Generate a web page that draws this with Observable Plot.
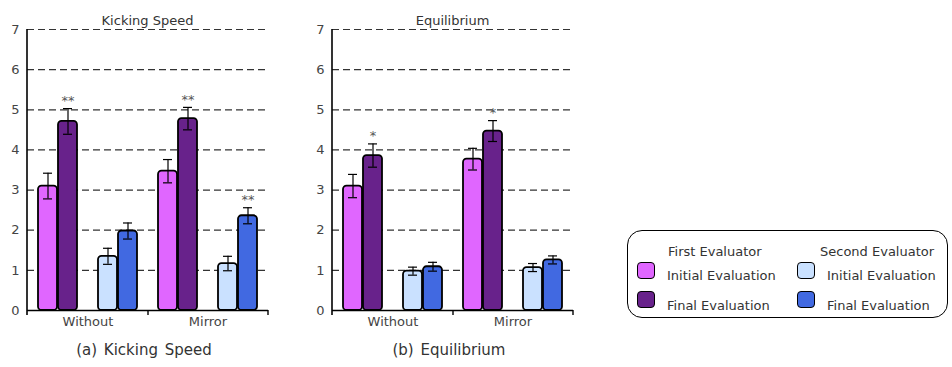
<!DOCTYPE html>
<html>
<head>
<meta charset="utf-8">
<script src="https://cdn.jsdelivr.net/npm/d3@7"></script>
<script src="https://cdn.jsdelivr.net/npm/@observablehq/plot@0.6"></script>
<style>
  html, body { margin: 0; padding: 0; background: #fff; }
  #root { position: relative; width: 952px; height: 367px; font-family: "DejaVu Sans", sans-serif; color: #444; }
  .abs { position: absolute; white-space: nowrap; }
  .title { font-size: 13px; line-height: 13px; text-align: center; color: #333; }
  .caption { font-size: 15px; line-height: 15px; text-align: center; color: #333; word-spacing: 2px; }
  .legend { left: 627px; top: 230px; width: 321px; height: 88px; box-sizing: border-box; border: 1.4px solid #000; border-radius: 15px; }
  .ltext { font-size: 13px; line-height: 13px; color: #333; }
  .sw { width: 18px; height: 17px; box-sizing: border-box; border: 1.6px solid #000; border-radius: 4px; }
  svg { overflow: visible; }
</style>
</head>
<body>
<div id="root"></div>
<script>
// ---- data ----
const conditions = ["Without", "Mirror"];
const seriesKeys = ["FI", "FF", "SI", "SF"];
const seriesLabels = ["Initial Evaluation", "Final Evaluation", "Initial Evaluation", "Final Evaluation"];
const evaluatorLabels = ["First Evaluator", "Second Evaluator"];
const seriesColors = ["#E066FF", "#68228B", "#CAE1FF", "#4169E1"];
const yTicks = [0, 1, 2, 3, 4, 5, 6, 7];
const gridValues = [1, 2, 3, 4, 5, 6, 7];

const chartTitles = ["Kicking Speed", "Equilibrium"];
const chartCaptions = ["(a) Kicking Speed", "(b) Equilibrium"];

// order: Without FI, FF, SI, SF, Mirror FI, FF, SI, SF
const kickingMean = [3.10, 4.71, 1.35, 1.98, 3.47, 4.78, 1.17, 2.36];
const kickingErr  = [0.32, 0.32, 0.20, 0.20, 0.29, 0.28, 0.18, 0.20];
const kickingSig  = ["", "**", "", "", "", "**", "", "**"];

const equilMean = [3.10, 3.86, 0.98, 1.09, 3.77, 4.47, 1.07, 1.26];
const equilErr  = [0.29, 0.29, 0.10, 0.11, 0.27, 0.26, 0.10, 0.10];
const equilSig  = ["", "*", "", "", "", "*", "", ""];

// ---- build ----
const root = document.getElementById("root");

function slotDomain() {
  const parts = conditions.map(c => [c + "|FI", c + "|FF", c + "|gap", c + "|SI", c + "|SF"]);
  const out = [];
  parts.forEach((p, i) => { if (i > 0) out.push("mid" + i); out.push(...p); });
  return out;
}

function makeChart(means, errs, sigs) {
  const rows = [];
  conditions.forEach((c, ci) => seriesKeys.forEach((s, si) => {
    const k = ci * seriesKeys.length + si;
    rows.push({cond: c, series: s, slot: c + "|" + s, value: means[k], err: errs[k], sig: sigs[k]});
  }));
  const domain = slotDomain();
  const midSlots = domain.filter(d => d.startsWith("mid"));
  const labelSlots = conditions.map(c => c + "|gap");

  const frameAxis = (index, scales, values, dimensions) => {
    const g = d3.create("svg:g").attr("stroke", "#000").attr("fill", "none");
    const xl = dimensions.marginLeft;
    const xr = dimensions.width - dimensions.marginRight;
    const y0 = scales.y(0);
    const yTop = scales.y(yTicks[yTicks.length - 1]);
    g.append("line").attr("x1", xl).attr("x2", xl).attr("y1", yTop).attr("y2", y0 + 5).attr("stroke-width", 1.6);
    g.append("line").attr("x1", xr).attr("x2", xr).attr("y1", y0).attr("y2", y0 + 5).attr("stroke-width", 1.4);
    return g.node();
  };

  return Plot.plot({
    width: 290,
    height: 315,
    marginLeft: 27,
    marginRight: 22,
    marginTop: 4,
    marginBottom: 30,
    style: {fontFamily: "DejaVu Sans, sans-serif", fontSize: "13px", color: "#444", background: "transparent", overflow: "visible"},
    x: {domain, paddingInner: 0.075, paddingOuter: 0.5, axis: null, label: null},
    y: {domain: [0, 7], axis: null, label: null},
    color: {domain: seriesKeys, range: seriesColors},
    marks: [
      Plot.ruleY(gridValues, {stroke: "#333", strokeWidth: 1.2, strokeDasharray: "7,4"}),
      Plot.axisY({ticks: yTicks, tickSize: 0, tickPadding: 8, tickFormat: d => String(d), label: null, fontSize: 13, fill: "#444"}),
      Plot.barY(rows, {x: "slot", y: "value", fill: "series", stroke: "#000", strokeWidth: 1.8, rx: 3.5}),
      Plot.ruleX(rows, {x: "slot", y1: d => d.value - d.err, y2: d => d.value + d.err, stroke: "#000", strokeWidth: 1.2}),
      Plot.tickY(rows, {x: "slot", y: d => d.value + d.err, stroke: "#000", strokeWidth: 1.2, insetLeft: 5, insetRight: 5}),
      Plot.tickY(rows, {x: "slot", y: d => d.value - d.err, stroke: "#000", strokeWidth: 1.2, insetLeft: 5, insetRight: 5}),
      Plot.text(rows.filter(d => d.sig), {x: "slot", y: d => d.value + d.err, text: "sig", dy: -8, fill: "#555", fontSize: 13}),
      Plot.ruleY([0], {stroke: "#000", strokeWidth: 1.6}),
      Plot.axisX({ticks: labelSlots, tickSize: 0, tickPadding: 6, tickFormat: d => d.split("|")[0], label: null, fontSize: 13, fill: "#444"}),
      Plot.axisX({ticks: midSlots, tickSize: 5, tickFormat: () => "", label: null, stroke: "#000", strokeWidth: 1.4}),
      frameAxis
    ]
  });
}

function place(el, left, top) {
  el.classList.add("abs");
  el.style.left = left + "px";
  el.style.top = top + "px";
  root.appendChild(el);
  return el;
}
function textDiv(cls, txt, left, top, width) {
  const d = document.createElement("div");
  d.className = cls;
  d.textContent = txt;
  if (width != null) d.style.width = width + "px";
  return place(d, left, top);
}

const charts = [[kickingMean, kickingErr, kickingSig], [equilMean, equilErr, equilSig]];
const chartLefts = [0, 305];
charts.forEach((c, i) => {
  const svg = makeChart(...c);
  place(svg, chartLefts[i], 25);
  textDiv("title", chartTitles[i], chartLefts[i] + 27, 14, 241);
  textDiv("caption", chartCaptions[i], chartLefts[i] + 4, 343, 280);
});

// legend
const leg = document.createElement("div");
leg.className = "legend";
place(leg, 627, 230);
const colX = [[637, 668, 667], [797, 820, 827]];
const rowTop = [269, 299];
const swTop = [262, 291];
evaluatorLabels.forEach((lab, ci) => {
  textDiv("ltext", lab, colX[ci][1], 245);
  for (let r = 0; r < 2; r++) {
    const idx = ci * 2 + r;
    const sw = document.createElement("div");
    sw.className = "sw";
    sw.style.background = seriesColors[idx];
    place(sw, colX[ci][0], swTop[r]);
    textDiv("ltext", seriesLabels[idx], colX[ci][2], rowTop[r]);
  }
});
</script>
</body>
</html>
